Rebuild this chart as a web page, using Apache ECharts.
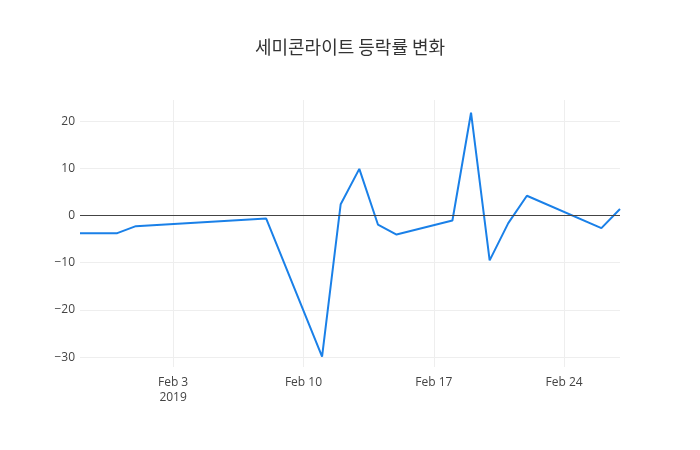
<!DOCTYPE html>
<html>
<head>
<meta charset="utf-8">
<script src="https://cdn.jsdelivr.net/npm/echarts@6/dist/echarts.min.js"></script>
<style>
  html, body { margin: 0; padding: 0; background: #fff; }
  #chart { width: 700px; height: 450px; }
</style>
</head>
<body>
<div id="chart"></div>
<script>
const titleText = '세미콘라이트 등락률 변화'
const dates = ['2019-01-29', '2019-01-31', '2019-02-01', '2019-02-08', '2019-02-11', '2019-02-12',
  '2019-02-13', '2019-02-14', '2019-02-15', '2019-02-18', '2019-02-19', '2019-02-20',
  '2019-02-21', '2019-02-22', '2019-02-26', '2019-02-27']
const changes = [-3.73, -3.73, -2.25, -0.64, -29.9, 2.41, 9.9, -1.9, -4.02, -1.05, 21.8, -9.5,
  -1.6, 4.2, -2.65, 1.4]
const xTicks = ['2019-02-03', '2019-02-10', '2019-02-17', '2019-02-24']
const yTicks = [-30, -20, -10, 0, 10, 20]

// dates -> day number since 2019-01-01 (value axis, so custom ticks work)
const DAY = 86400000
const base = Date.UTC(2019, 0, 1)
const toDay = s => {
  const p = s.split('-').map(Number)
  return Math.round((Date.UTC(p[0], p[1] - 1, p[2]) - base) / DAY)
}
const months = ['Jan', 'Feb', 'Mar', 'Apr', 'May', 'Jun', 'Jul', 'Aug', 'Sep', 'Oct', 'Nov', 'Dec']
const xTickDays = xTicks.map(toDay)

const chart = echarts.init(document.getElementById('chart'))
const font = '"Open Sans", "Noto Sans", sans-serif'

chart.setOption({
  animation: false,
  title: {
    text: titleText,
    left: 'center',
    top: 33,
    textStyle: { fontFamily: '"Noto Sans CJK KR", sans-serif', fontSize: 18, fontWeight: 'normal', color: '#333' }
  },
  grid: { left: 80, right: 80, top: 100, bottom: 83, containLabel: false },
  xAxis: {
    type: 'value',
    min: toDay('2019-01-29'),
    max: toDay('2019-02-27'),
    axisLine: { show: false },
    axisTick: { show: false, customValues: xTickDays },
    splitLine: { show: true, lineStyle: { color: '#eee', width: 1 } },
    axisLabel: {
      customValues: xTickDays,
      margin: 8,
      color: '#444',
      fontSize: 12,
      fontFamily: font,
      lineHeight: 15,
      formatter: (v) => {
        const d = new Date(base + v * DAY)
        const txt = months[d.getUTCMonth()] + ' ' + d.getUTCDate()
        return v === xTickDays[0] ? txt + '\n' + d.getUTCFullYear() : txt
      }
    }
  },
  yAxis: {
    type: 'value',
    min: -32.1,
    max: 24.5,
    axisLine: { show: false },
    axisTick: { show: false, customValues: yTicks },
    splitLine: { show: true, lineStyle: { color: '#eee', width: 1 } },
    axisLabel: {
      customValues: yTicks,
      margin: 5,
      color: '#444',
      fontSize: 12,
      fontFamily: font,
      formatter: v => (v < 0 ? '\u2212' + Math.abs(v) : String(v))
    }
  },
  series: [{
    type: 'line',
    data: dates.map((d, i) => [toDay(d), changes[i]]),
    symbol: 'none',
    lineStyle: { color: '#1a80e8', width: 2 },
    itemStyle: { color: '#1a80e8' },
    markLine: {
      silent: true,
      symbol: 'none',
      label: { show: false },
      lineStyle: { color: '#444', width: 1, type: 'solid' },
      data: [{ yAxis: 0 }]
    }
  }]
})
</script>
</body>
</html>
